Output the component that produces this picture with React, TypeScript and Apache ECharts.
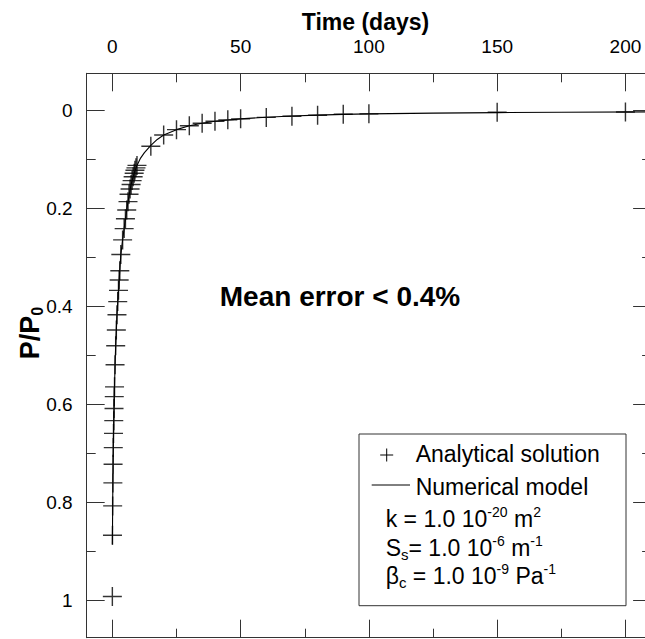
import React, { useEffect, useRef } from 'react';
import * as echarts from 'echarts';

const xMajorTicks = [0, 50, 100, 150, 200];
const xMinorTicks = [25, 75, 125, 175];
const yMajorTicks = [0, 0.2, 0.4, 0.6, 0.8, 1];
const yMinorTicks = [0.1, 0.3, 0.5, 0.7, 0.9];

// Analytical solution (crosses)
const analyticalTime = [
  0, 0.05, 0.12, 0.2, 0.28, 0.36, 0.45, 0.55, 0.65, 0.75, 0.85, 1.05, 1.3, 1.55, 1.8, 2.1, 2.4, 2.65, 2.9, 3.3,
  4.0, 4.6, 5.1, 5.6, 6.1, 6.5, 6.9, 7.3, 7.7, 8.1, 8.5, 8.8, 9.2, 9.6,
  15, 20, 25, 30, 35, 40, 45, 50, 60, 70, 80, 90, 100, 150, 200,
];
const analyticalP = [
  0.992, 0.867, 0.807, 0.76, 0.722, 0.688, 0.659, 0.633, 0.608, 0.584, 0.564, 0.519, 0.48, 0.448, 0.417, 0.39, 0.367, 0.346, 0.327, 0.294,
  0.264, 0.241, 0.221, 0.203, 0.186, 0.171, 0.16, 0.151, 0.143, 0.135, 0.128, 0.122, 0.117, 0.112,
  0.073, 0.05, 0.039, 0.031, 0.026, 0.022, 0.019, 0.017, 0.014, 0.0115, 0.0095, 0.0075, 0.0068, 0.0035, 0.003,
];

// Numerical model (line)
const numericalTime = [
  0, 0.05, 0.12, 0.2, 0.36, 0.55, 0.75, 1.05, 1.3, 1.8, 2.4, 3.3, 4.0, 5.1, 6.1, 7.3, 8.5, 9.6, 11, 12.5, 15, 17.5,
  20, 25, 30, 35, 40, 50, 60, 70, 80, 90, 100, 125, 150, 175, 210,
];
const numericalP = [
  0.886, 0.86, 0.807, 0.76, 0.688, 0.633, 0.584, 0.519, 0.48, 0.417, 0.367, 0.294, 0.264, 0.221, 0.186, 0.151, 0.128, 0.112, 0.097, 0.086, 0.071, 0.059,
  0.05, 0.039, 0.031, 0.026, 0.022, 0.017, 0.0138, 0.0113, 0.0094, 0.0078, 0.0068, 0.0052, 0.0042, 0.0035, 0.0028,
];

const xRange = [-10, 210];
const yRange = [-0.076, 1.076];

const FONT = '"Liberation Sans", Arial, Helvetica, sans-serif';
const LINE = { color: '#333', width: 1 };

function xAxisDef(position: string, ticks: number[], len: number, showLine: boolean, showLabels: boolean) {
  return {
    type: 'value',
    position,
    min: xRange[0],
    max: xRange[1],
    axisLine: { show: showLine, onZero: false, lineStyle: LINE },
    axisTick: { show: true, inside: true, length: len, lineStyle: LINE, customValues: ticks },
    axisLabel: showLabels
      ? { show: true, customValues: ticks, margin: 17, fontSize: 19, color: '#000', fontFamily: FONT }
      : { show: false },
    splitLine: { show: false },
  };
}

function yAxisDef(position: string, ticks: number[], len: number, showLine: boolean, showLabels: boolean) {
  return {
    type: 'value',
    position,
    inverse: true,
    min: yRange[0],
    max: yRange[1],
    axisLine: { show: showLine, onZero: false, lineStyle: LINE },
    axisTick: { show: true, inside: true, length: len, lineStyle: LINE, customValues: ticks },
    axisLabel: showLabels
      ? { show: true, customValues: ticks, margin: 14, fontSize: 19, color: '#000', fontFamily: FONT, formatter: (v: number) => String(v) }
      : { show: false },
    splitLine: { show: false },
  };
}

const CROSS = 'path://M9.25,0h1.5v20h-1.5z M0,9.25h20v1.5h-20z';

export default function App() {
  const ref = useRef<HTMLDivElement>(null);
  useEffect(() => {
    if (!ref.current) return;
    document.body.style.overflow = 'hidden';
    const chart = echarts.init(ref.current, undefined, { renderer: 'svg' });
    const legendFont = { fontSize: 23, fontFamily: FONT, fill: '#000', lineHeight: 28 };
    const rich = {
      sup: { fontSize: 14, fontFamily: FONT, fill: '#000', lineHeight: 12, verticalAlign: 'top' },
      sub: { fontSize: 15, fontFamily: FONT, fill: '#000', lineHeight: 16, verticalAlign: 'bottom' },
    };
    const option: any = {
      animation: false,
      grid: { left: 86.7, top: 73.3, width: 564.4, height: 564.4, containLabel: false },
      xAxis: [
        xAxisDef('top', xMajorTicks, 18, true, true),
        xAxisDef('top', xMinorTicks, 9, false, false),
        xAxisDef('bottom', xMajorTicks, 18, true, false),
        xAxisDef('bottom', xMinorTicks, 9, false, false),
      ],
      yAxis: [
        yAxisDef('left', yMajorTicks, 18, true, true),
        yAxisDef('left', yMinorTicks, 9, false, false),
        yAxisDef('right', yMajorTicks, 18, true, false),
        yAxisDef('right', yMinorTicks, 9, false, false),
      ],
      series: [
        {
          type: 'line',
          name: 'Numerical model',
          xAxisIndex: 0,
          yAxisIndex: 0,
          data: numericalTime.map((t, i) => [t, numericalP[i]]),
          showSymbol: false,
          symbol: 'none',
          lineStyle: { color: '#000', width: 1.1 },
          z: 2,
        },
        {
          type: 'scatter',
          name: 'Analytical solution',
          xAxisIndex: 0,
          yAxisIndex: 0,
          data: analyticalTime.map((t, i) => [t, analyticalP[i]]),
          symbol: CROSS,
          symbolSize: 19,
          itemStyle: { color: '#000' },
          z: 3,
        },
      ],
      graphic: [
        {
          type: 'text', x: 365.5, y: 22,
          style: { text: 'Time (days)', fontSize: 23, fontWeight: 'bold', fontFamily: FONT, fill: '#000', align: 'center', verticalAlign: 'middle', textAlign: 'center', textVerticalAlign: 'middle' },
        },
        {
          type: 'text', x: 30, y: 333, rotation: Math.PI / 2,
          style: {
            text: 'P/P{s|0}', fontSize: 27, fontWeight: 'bold', fontFamily: FONT, fill: '#000', lineHeight: 30,
            align: 'center', verticalAlign: 'middle', textAlign: 'center', textVerticalAlign: 'middle',
            rich: { s: { fontSize: 16, fontWeight: 'bold', fontFamily: FONT, fill: '#000', lineHeight: 18, verticalAlign: 'bottom' } },
          },
        },
        {
          type: 'text', x: 340, y: 296,
          style: { text: 'Mean error < 0.4%', fontSize: 28, fontWeight: 'bold', fontFamily: FONT, fill: '#000', align: 'center', verticalAlign: 'middle', textAlign: 'center', textVerticalAlign: 'middle' },
        },
        {
          type: 'rect', shape: { x: 359, y: 434, width: 267, height: 171.7 },
          style: { fill: '#fff', stroke: '#333', lineWidth: 1 }, z: 10,
        },
        { type: 'line', shape: { x1: 380.2, y1: 455, x2: 393.2, y2: 455 }, style: { stroke: '#000', lineWidth: 1 }, z: 11 },
        { type: 'line', shape: { x1: 386.7, y1: 448.5, x2: 386.7, y2: 461.5 }, style: { stroke: '#000', lineWidth: 1 }, z: 11 },
        { type: 'line', shape: { x1: 371.7, y1: 485, x2: 410, y2: 485 }, style: { stroke: '#000', lineWidth: 1 }, z: 11 },
        {
          type: 'text', x: 415.7, y: 454, z: 11,
          style: { text: 'Analytical solution', ...legendFont, align: 'left', verticalAlign: 'middle', textAlign: 'left', textVerticalAlign: 'middle' },
        },
        {
          type: 'text', x: 415.7, y: 487, z: 11,
          style: { text: 'Numerical model', ...legendFont, align: 'left', verticalAlign: 'middle', textAlign: 'left', textVerticalAlign: 'middle' },
        },
        {
          type: 'text', x: 385.7, y: 519, z: 11,
          style: { text: 'k = 1.0 10{sup|-20} m{sup|2}', ...legendFont, rich, align: 'left', verticalAlign: 'middle', textAlign: 'left', textVerticalAlign: 'middle' },
        },
        {
          type: 'text', x: 385.7, y: 548, z: 11,
          style: { text: 'S{sub|s}= 1.0 10{sup|-6} m{sup|-1}', ...legendFont, rich, align: 'left', verticalAlign: 'middle', textAlign: 'left', textVerticalAlign: 'middle' },
        },
        {
          type: 'text', x: 385.7, y: 576, z: 11,
          style: { text: 'β{sub|c} = 1.0 10{sup|-9} Pa{sup|-1}', ...legendFont, rich, align: 'left', verticalAlign: 'middle', textAlign: 'left', textVerticalAlign: 'middle' },
        },
      ],
    };
    chart.setOption(option);
    return () => chart.dispose();
  }, []);
  return (
    <div
      ref={ref}
      style={{ position: 'fixed', left: 0, top: 0, width: 670, height: 660, background: '#fff' }}
    />
  );
}
